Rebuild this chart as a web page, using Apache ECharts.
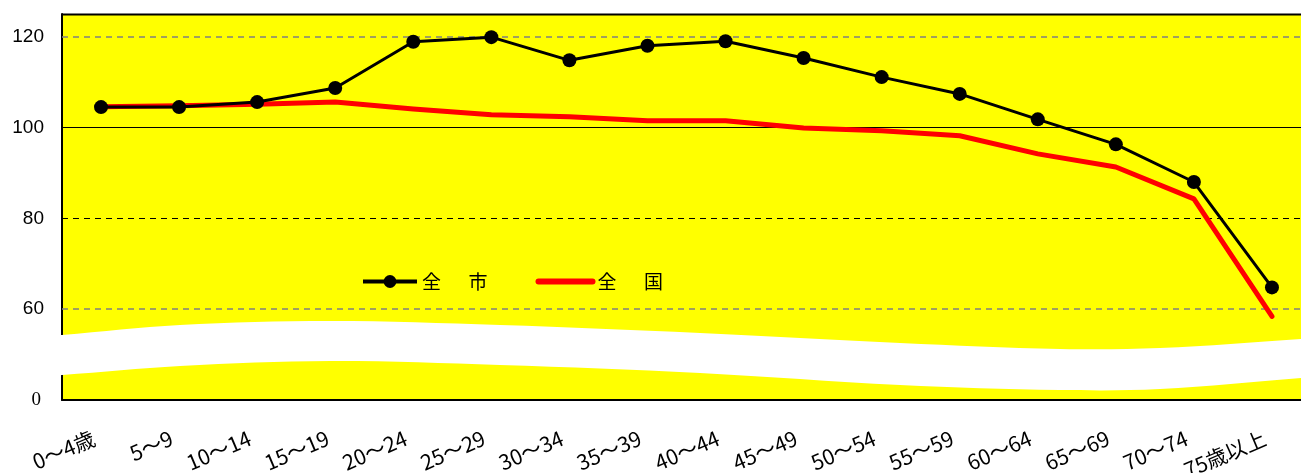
<!DOCTYPE html>
<html>
<head>
<meta charset="utf-8">
<script src="https://cdn.jsdelivr.net/npm/echarts@6/dist/echarts.min.js"></script>
<style>
html,body{margin:0;padding:0;background:#fff;}
#chart{width:1301px;height:473px;}
</style>
</head>
<body>
<div id="chart"></div>
<script>
const categories = ['0～4歳','5～9','10～14','15～19','20～24','25～29','30～34','35～39','40～44','45～49','50～54','55～59','60～64','65～69','70～74','75歳以上'];
const cityValues = [104.5,104.5,105.6,108.7,118.9,119.9,114.8,118.0,119.0,115.3,111.1,107.4,101.8,96.3,88.0,64.8];
const nationValues = [104.6,104.8,105.1,105.6,104.1,102.8,102.4,101.5,101.5,99.9,99.3,98.2,94.2,91.3,84.3,58.4];
const seriesNames = ['全市','全国'];
const gridLineValues = [60,80,100,120];

const FONT = '"Noto Sans CJK JP",sans-serif';
const YFONT = '"Liberation Sans",Arial,sans-serif';

const chart = echarts.init(document.getElementById('chart'), null, {renderer:'canvas'});

const gridStyles = {
  60:{color:'#808080',type:[6,5],width:1.5},
  80:{color:'#000',type:[6,5],width:1},
  100:{color:'#000',type:'solid',width:1.2},
  120:{color:'#808080',type:[6,5],width:1.5}
};

// wave band (axis break) decoration in pixel space
const topEdge = [[40,336],[62,335],[180,325],[330,321],[500,325],[700,333],[900,343],[1060,349],[1160,348],[1301,339],[1330,336]];
const botEdge = [[40,376],[62,375],[180,366],[330,361],[500,365],[700,373],[900,385],[1060,390],[1160,389],[1301,378],[1330,376]];

const option = {
  animation:false,
  backgroundColor:'#fff',
  grid:{left:62, top:14, right:-10, bottom:73, outerBoundsMode:'none', containLabel:false,
        backgroundColor:'#ffff00', show:true, borderWidth:0},
  legend:{
    left:356, top:267, itemWidth:54, itemHeight:16, itemGap:48,
    data:[
      {name:seriesNames[0], lineStyle:{width:4}},
      {name:seriesNames[1], itemStyle:{opacity:0}, lineStyle:{width:6}}
    ],
    textStyle:{fontFamily:FONT, fontSize:19, color:'#000'},
    formatter:function(n){ return n.split('').join('　  '); }
  },
  xAxis:{
    type:'category', data:categories, boundaryGap:true,
    axisLine:{show:true, onZero:false, lineStyle:{color:'#000', width:2}},
    axisTick:{show:false},
    axisLabel:{rotate:23, margin:34, padding:[0,8,0,0], fontFamily:FONT, fontSize:21, color:'#000', interval:0},
    splitLine:{show:false}
  },
  yAxis:{
    type:'value', min:40, max:125, interval:20,
    axisLine:{show:true, lineStyle:{color:'#000', width:2}},
    axisTick:{show:false},
    splitLine:{show:false},
    axisLabel:{
      margin:18, fontFamily:YFONT, fontSize:19, color:'#000',
      formatter:function(v){ if(v===40) return '{z|0}'; if(v>120) return ''; return String(v); },
      rich:{z:{fontFamily:'"Liberation Serif","DejaVu Serif",serif', fontSize:19, color:'#000', padding:[0,3,0,0]}}
    }
  },
  graphic:[
    {type:'line', shape:{x1:62,y1:14.5,x2:1301,y2:14.5}, style:{stroke:'#000', lineWidth:2}, z:100},
    {type:'polygon', shape:{points:topEdge.concat(botEdge.slice().reverse()), smooth:0.35}, style:{fill:'#fff'}, z:100}
  ],
  series:[
    {
      name:seriesNames[1], type:'line', data:nationValues, symbol:'none',
      lineStyle:{color:'#ff0000', width:5, cap:'round', join:'round'},
      itemStyle:{color:'#ff0000'}, z:3,
      markLine:{
        silent:true, symbol:'none', label:{show:false}, z:1,
        data:gridLineValues.map(v=>({yAxis:v, lineStyle:gridStyles[v]}))
      }
    },
    {
      name:seriesNames[0], type:'line', data:cityValues, symbol:'circle', symbolSize:14,
      lineStyle:{color:'#000', width:3}, itemStyle:{color:'#000'}, z:4
    }
  ]
};
chart.setOption(option);
</script>
</body>
</html>
